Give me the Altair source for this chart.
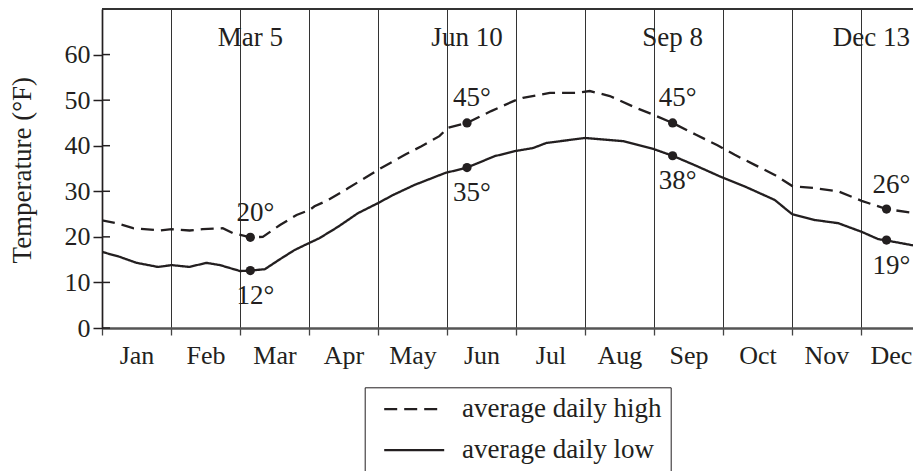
import altair as alt
import pandas as pd

# ---------------- data ----------------
months = ["Jan", "Feb", "Mar", "Apr", "May", "Jun", "Jul", "Aug", "Sep", "Oct", "Nov", "Dec"]

# x positions in "month units": 0 = start of Jan, 1 = start of Feb, ...
high_x = [0.00, 0.21, 0.45, 0.84, 1.01, 1.27, 1.46, 1.75, 1.90, 2.15, 2.33, 2.58, 2.82, 3.01,
          3.08, 3.28, 3.57, 4.00, 4.39, 4.63, 4.89, 5.01, 5.29, 5.64, 5.98, 6.10, 6.49, 6.88,
          7.07, 7.36, 7.74, 7.99, 8.27, 8.61, 8.92, 9.17, 9.46, 9.75, 10.01, 10.33, 10.67,
          11.01, 11.37, 11.87, 12.00]
high_y = [23.6, 23.0, 21.9, 21.4, 21.7, 21.4, 21.7, 21.9, 20.8, 19.9, 20.0, 22.6, 24.8, 25.9,
          26.7, 28.1, 30.7, 34.7, 38.0, 39.9, 42.1, 43.9, 45.0, 47.6, 49.9, 50.5, 51.6, 51.6,
          52.0, 50.9, 48.3, 46.8, 45.0, 42.4, 40.1, 38.0, 35.8, 33.6, 31.1, 30.7, 30.0,
          27.9, 26.1, 25.0, 24.8]

low_x = [0.00, 0.26, 0.50, 0.81, 1.01, 1.27, 1.51, 1.71, 2.00, 2.15, 2.36, 2.58, 2.79, 2.94,
         3.01, 3.15, 3.42, 3.71, 4.00, 4.22, 4.53, 4.97, 5.29, 5.69, 5.98, 6.25, 6.44, 7.00,
         7.55, 7.99, 8.27, 8.61, 8.95, 9.31, 9.75, 10.00, 10.33, 10.67, 11.01, 11.25, 11.37,
         11.59, 11.87, 12.00]
low_y = [16.7, 15.6, 14.3, 13.4, 13.8, 13.4, 14.3, 13.8, 12.5, 12.6, 12.9, 15.1, 17.1, 18.2,
         18.7, 19.7, 22.2, 25.2, 27.4, 29.2, 31.4, 34.0, 35.2, 37.7, 38.8, 39.5, 40.6, 41.7,
         41.0, 39.3, 37.8, 35.6, 33.3, 31.1, 28.1, 25.0, 23.7, 23.0, 21.1, 19.5, 19.2,
         18.6, 17.8, 17.5]

series_names = ["average daily high", "average daily low"]

date_labels = ["Mar 5", "Jun 10", "Sep 8", "Dec 13"]
date_x = [2.15, 5.29, 8.27, 11.37]
date_label_x = [2.15, 5.29, 8.27, 11.15]
dot_high = [19.9, 45.0, 45.0, 26.1]
dot_low = [12.6, 35.2, 37.8, 19.3]
high_text = ["20°", "45°", "45°", "26°"]
low_text = ["12°", "35°", "38°", "19°"]

y_ticks = [0, 10, 20, 30, 40, 50, 60]

# ---------------- tables ----------------
lines_df = pd.concat([
    pd.DataFrame({"m": high_x, "t": high_y, "series": series_names[0]}),
    pd.DataFrame({"m": low_x, "t": low_y, "series": series_names[1]}),
])
high_df = pd.DataFrame({"m": date_x, "t": dot_high, "lab": high_text})
low_df = pd.DataFrame({"m": date_x, "t": dot_low, "lab": low_text})
dots_df = pd.concat([high_df, low_df])
hdr_df = pd.DataFrame({"m": date_label_x, "lab": date_labels})
ticks_df = pd.DataFrame({"t": y_ticks})

INK = "#231f20"
FONT = "Liberation Serif"
W, H = 811, 319
XMAX = 11.754

xscale = alt.Scale(domain=[0, XMAX], nice=False, zero=False)
yscale = alt.Scale(domain=[0, 70], nice=False)

x_axis = alt.Axis(
    values=list(range(12)),
    labelExpr="['Jan','Feb','Mar','Apr','May','Jun','Jul','Aug','Sep','Oct','Nov','Dec'][datum.value]",
    labelOffset={"condition": {"test": "datum.value == 11", "value": 30}, "value": 34.5},
    labelFlush=False, labelOverlap=False, labelBound=False,
    labelFontSize=26, labelColor=INK, labelFont=FONT, labelPadding=7,
    grid=True, gridColor="#333333", gridWidth=1,
    domainColor="#555555", domainWidth=2.3,
    tickColor="#444444", tickSize=7, tickWidth=1.3,
    title=None,
)
y_axis = alt.Axis(
    values=y_ticks, grid=False,
    labelFontSize=26, labelColor=INK, labelFont=FONT, labelPadding=3,
    domainColor=INK, domainWidth=1.7,
    tickColor=INK, tickSize=9, tickWidth=1.5,
    title="Temperature (°F)", titleFont=FONT, titleFontSize=27, titleFontWeight="normal",
    titleColor=INK, titleAngle=270, titleX=-80, titleY=160.7,
    titleAlign="center", titleBaseline="middle",
)

lines = alt.Chart(lines_df).mark_line(color=INK, strokeWidth=2.3, clip=True).encode(
    x=alt.X("m:Q", scale=xscale, axis=x_axis),
    y=alt.Y("t:Q", scale=yscale, axis=y_axis),
    strokeDash=alt.StrokeDash(
        "series:N",
        scale=alt.Scale(domain=series_names, range=[[13, 7], [1, 0]]),
        legend=alt.Legend(
            orient="none", legendX=262.7, legendY=378.3, title=None,
            strokeColor=INK, padding=8.4, fillColor="white",
            symbolType="M-0.2,0H4.8", symbolSize=576, symbolStrokeWidth=2.3,
            symbolStrokeColor=INK, symbolFillColor="transparent",
            labelFontSize=27, labelFont=FONT, labelColor=INK, labelOffset=62,
            labelLimit=600, rowPadding=13,
        ),
    ),
    detail="series:N",
)

dots = alt.Chart(dots_df).mark_circle(size=85, color=INK, opacity=1).encode(
    x="m:Q", y="t:Q"
)

hi_lab = alt.Chart(high_df).mark_text(
    font=FONT, fontSize=27, color=INK, baseline="middle", align="center", dx=5, dy=-24.5
).encode(x="m:Q", y="t:Q", text="lab:N")

lo_lab = alt.Chart(low_df).mark_text(
    font=FONT, fontSize=27, color=INK, baseline="middle", align="center", dx=5, dy=25.5
).encode(x="m:Q", y="t:Q", text="lab:N")

hdr = alt.Chart(hdr_df).mark_text(
    font=FONT, fontSize=27, color=INK, baseline="middle", align="center"
).encode(x="m:Q", y=alt.value(28.7), text="lab:N")

inner_ticks = alt.Chart(ticks_df).mark_rule(color=INK, strokeWidth=1.5).encode(
    y="t:Q", x=alt.value(0), x2=alt.value(8)
)

top_border = alt.Chart(ticks_df).mark_rule(color="#333333", strokeWidth=1.5).encode(
    y=alt.datum(70)
)

chart = alt.layer(
    top_border, inner_ticks, lines, dots, hi_lab, lo_lab, hdr
).properties(
    width=W, height=H,
    autosize=alt.AutoSizeParams(type="none"),
    padding={"left": 94, "top": 1, "right": 0, "bottom": 143},
).configure_view(stroke=None).configure(font=FONT)

chart.save("out.html", embed_options={"renderer": "svg", "actions": False})
